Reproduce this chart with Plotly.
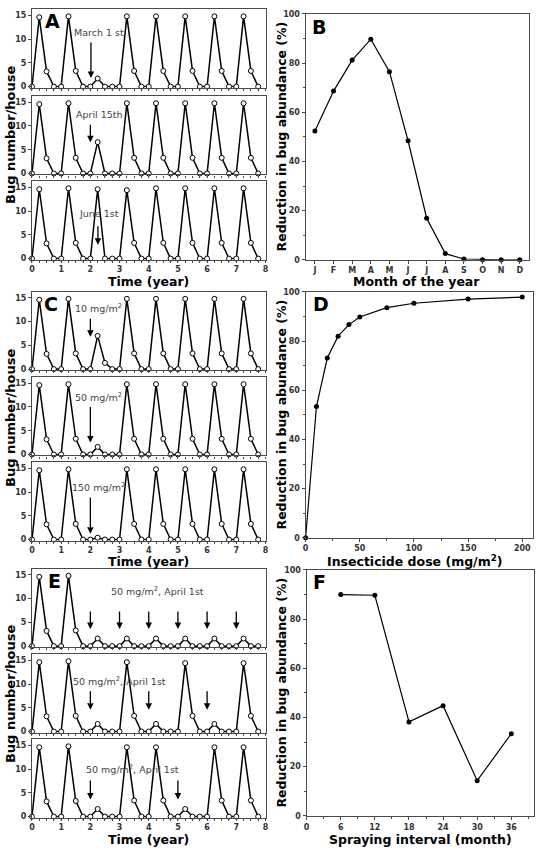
import plotly.graph_objects as go

W, H = 543, 851

# ---------------- data ----------------
time_years = [0.0, 0.25, 0.5, 0.75, 1.0, 1.25, 1.5, 1.75, 2.0, 2.25, 2.5, 2.75,
              3.0, 3.25, 3.5, 3.75, 4.0, 4.25, 4.5, 4.75, 5.0, 5.25, 5.5, 5.75,
              6.0, 6.25, 6.5, 6.75, 7.0, 7.25, 7.5, 7.75]

a_march1 = [0, 14.6, 3.2, 0, 0, 14.8, 3.3, 0, 0, 1.7, 0, 0,
            0, 14.8, 3.3, 0, 0, 14.8, 3.3, 0, 0, 14.8, 3.3, 0,
            0, 14.8, 3.3, 0, 0, 14.8, 3.3, 0]
a_april15 = [0, 14.6, 3.2, 0, 0, 14.8, 3.3, 0, 0, 6.6, 0, 0,
             0, 14.8, 3.3, 0, 0, 14.8, 3.3, 0, 0, 14.8, 3.3, 0,
             0, 14.8, 3.3, 0, 0, 14.8, 3.3, 0]
a_june1 = [0, 14.6, 3.2, 0, 0, 14.8, 3.3, 0, 0, 14.6, 0, 0,
           0, 14.4, 3.3, 0, 0, 14.8, 3.3, 0, 0, 14.8, 3.3, 0,
           0, 14.8, 3.3, 0, 0, 14.8, 3.3, 0]
c_10mg = [0, 14.6, 3.2, 0, 0, 14.8, 3.3, 0, 0, 7.0, 1.3, 0,
          0, 14.8, 3.3, 0, 0, 14.8, 3.3, 0, 0, 14.8, 3.3, 0,
          0, 14.8, 3.3, 0, 0, 14.8, 3.3, 0]
c_50mg = [0, 14.6, 3.2, 0, 0, 14.8, 3.3, 0, 0, 1.6, 0, 0,
          0, 14.8, 3.3, 0, 0, 14.8, 3.3, 0, 0, 14.8, 3.3, 0,
          0, 14.8, 3.3, 0, 0, 14.8, 3.3, 0]
c_150mg = [0, 14.6, 3.2, 0, 0, 14.8, 3.3, 0, 0, 0.4, 0, 0,
           0, 14.8, 3.3, 0, 0, 14.8, 3.3, 0, 0, 14.8, 3.3, 0,
           0, 14.8, 3.3, 0, 0, 14.8, 3.3, 0]
e_every12 = [0, 14.6, 3.2, 0, 0, 14.8, 3.3, 0, 0, 1.6, 0, 0,
             0, 1.6, 0, 0, 0, 1.6, 0, 0, 0, 1.6, 0, 0,
             0, 1.6, 0, 0, 0, 1.6, 0, 0]
e_every24 = [0, 14.6, 3.2, 0, 0, 14.8, 3.3, 0, 0, 1.6, 0, 0,
             0, 14.6, 3.3, 0, 0, 1.6, 0, 0, 0, 14.4, 3.3, 0,
             0, 1.6, 0, 0, 0, 14.4, 3.3, 0]
e_every36 = [0, 14.6, 3.2, 0, 0, 14.8, 3.3, 0, 0, 1.6, 0, 0,
             0, 14.6, 3.4, 0, 0, 14.6, 3.4, 0, 0, 1.6, 0, 0,
             0, 14.6, 3.4, 0, 0, 14.6, 3.4, 0]

month_ticks = ["J", "F", "M", "A", "M", "J", "J", "A", "S", "O", "N", "D"]
month_num = [1, 2, 3, 4, 5, 6, 7, 8, 9, 10, 11, 12]
b_reduction = [52.4, 68.6, 81.2, 89.7, 76.5, 48.4, 16.9, 2.5, 0.3, 0.0, 0.0, 0.0]

d_dose = [0, 10, 20, 30, 40, 50, 75, 100, 150, 200]
d_reduction = [0.0, 53.4, 73.1, 82.0, 86.7, 89.8, 93.6, 95.4, 97.1, 97.9]

f_interval = [6, 12, 18, 24, 30, 36]
f_reduction = [90.0, 89.7, 38.2, 44.8, 14.3, 33.4]

left_series = [a_march1, a_april15, a_june1, c_10mg, c_50mg, c_150mg,
               e_every12, e_every24, e_every36]
left_tops = [5.5, 93.3, 179.3, 291.0, 377.3, 463.3, 571.0, 657.3, 743.3]

# ---------------- helpers ----------------
FONT = "DejaVu Sans"
GRID = "#4a4a4a"


def px_x(p):
    return p / W


def px_y(p):
    return 1 - p / H


fig = go.Figure()
layout = {}
annotations = []

LX0, LX1 = 29.3, 266.0
PANEL_H = 79.0

for i, (series, top) in enumerate(zip(left_series, left_tops)):
    n = i + 1
    xa = "xaxis" if n == 1 else f"xaxis{n}"
    ya = "yaxis" if n == 1 else f"yaxis{n}"
    xr = "x" if n == 1 else f"x{n}"
    yr = "y" if n == 1 else f"y{n}"
    fig.add_trace(go.Scatter(
        x=time_years, y=series, xaxis=xr, yaxis=yr, mode="lines+markers",
        line=dict(color="black", width=1.5),
        marker=dict(symbol="circle", size=5, color="white",
                    line=dict(color="black", width=1)),
        cliponaxis=False, showlegend=False, hoverinfo="skip"))
    bottom_panel = (i % 3 == 2)
    layout[xa] = dict(
        domain=[px_x(LX0), px_x(LX1)], anchor=yr, range=[0, 8.02],
        tickvals=[0, 1, 2, 3, 4, 5, 6, 7, 8],
        showticklabels=bottom_panel, ticks="outside", ticklen=2,
        tickcolor=GRID, tickwidth=1,
        minor=dict(dtick=0.25, tick0=0, ticks="outside", ticklen=2,
                   tickcolor=GRID, showgrid=False),
        tickfont=dict(family=FONT, size=8, color="#333", weight="bold"),
        showline=True, mirror=True, linecolor=GRID, linewidth=1.2,
        showgrid=False, zeroline=False, fixedrange=True)
    layout[ya] = dict(
        domain=[px_y(top + PANEL_H), px_y(top)], anchor=xr,
        range=[-0.21, 16.25], tickvals=[0, 5, 10, 15],
        ticks="outside", ticklen=3, tickcolor=GRID, tickwidth=1,
        tickfont=dict(family=FONT, size=8, color="#333", weight="bold"),
        showline=True, mirror=True, linecolor=GRID, linewidth=1.2,
        showgrid=False, zeroline=False, fixedrange=True)

# right-hand panels
right_specs = [
    (month_num, b_reduction, (306, 532), (10, 258.5), [0.5, 12.5],
     month_num, month_ticks, None),
    (d_dose, d_reduction, (306, 536), (291, 539.5), [0, 210],
     [0, 50, 100, 150, 200], ["0", "50", "100", "150", "200"], 25),
    (f_interval, f_reduction, (307, 537), (572, 820.5), [0, 40],
     [0, 6, 12, 18, 24, 30, 36], ["0", "6", "12", "18", "24", "30", "36"], 3),
]
for j, (xs, ys, xd, yd, xrng, tv, tt, mdt) in enumerate(right_specs):
    n = 10 + j
    xa, ya, xr, yr = f"xaxis{n}", f"yaxis{n}", f"x{n}", f"y{n}"
    fig.add_trace(go.Scatter(
        x=xs, y=ys, xaxis=xr, yaxis=yr, mode="lines+markers",
        line=dict(color="black", width=1.2),
        marker=dict(symbol="circle", size=5, color="black"),
        cliponaxis=False, showlegend=False, hoverinfo="skip"))
    xdict = dict(
        domain=[px_x(xd[0]), px_x(xd[1])], anchor=yr, range=xrng,
        tickvals=tv, ticktext=tt, ticks="outside", ticklen=3,
        tickcolor=GRID, tickwidth=1,
        tickfont=dict(family=FONT, size=8, color="#333", weight="bold"),
        showline=True, mirror=True, linecolor=GRID, linewidth=1.2,
        showgrid=False, zeroline=False, fixedrange=True)
    if mdt:
        xdict["minor"] = dict(dtick=mdt, tick0=0, ticks="outside", ticklen=2,
                              tickcolor=GRID, showgrid=False)
    layout[xa] = xdict
    layout[ya] = dict(
        domain=[px_y(yd[1]), px_y(yd[0])], anchor=xr, range=[0, 100],
        tickvals=[0, 20, 40, 60, 80, 100], ticks="outside", ticklen=3,
        tickcolor=GRID, tickwidth=1,
        minor=dict(dtick=10, tick0=0, ticks="outside", ticklen=2,
                   tickcolor=GRID, showgrid=False),
        tickfont=dict(family=FONT, size=8, color="#333", weight="bold"),
        showline=True, mirror=True, linecolor=GRID, linewidth=1.2,
        showgrid=False, zeroline=False, fixedrange=True)

# ---------------- annotations ----------------
def ref(n):
    return ("x" if n == 1 else f"x{n}"), ("y" if n == 1 else f"y{n}")


TXT = dict(family=FONT, size=9.5, color="#444")

panel_texts = [
    (1, 2.29, 11.3, "March 1 st"),
    (2, 2.3, 12.5, "April 15th"),
    (3, 2.3, 9.4, "June 1st"),
    (4, 2.28, 12.8, "10 mg/m<sup>2</sup>"),
    (5, 2.28, 12.0, "50 mg/m<sup>2</sup>"),
    (6, 2.28, 11.1, "150 mg/m<sup>2</sup>"),
    (7, 4.31, 11.6, "50 mg/m<sup>2</sup>, April 1st"),
    (8, 3.01, 10.6, "50 mg/m<sup>2</sup>, April 1st"),
    (9, 3.46, 10.0, "50 mg/m<sup>2</sup>, April 1st"),
]
for n, x, y, t in panel_texts:
    xr, yr = ref(n)
    annotations.append(dict(xref=xr, yref=yr, x=x, y=y, text=t,
                            showarrow=False, font=TXT))

arrows = [
    (1, 2.02, 9.6, 1.8),
    (2, 2.0, 10.6, 6.6),
    (3, 2.26, 7.1, 2.9),
    (4, 2.0, 10.9, 6.8),
    (5, 2.0, 10.3, 2.5),
    (6, 2.0, 9.2, 1.2),
    (7, 2.0, 7.6, 3.6), (7, 3.0, 7.6, 3.6), (7, 4.0, 7.6, 3.6),
    (7, 5.0, 7.6, 3.6), (7, 6.0, 7.6, 3.6), (7, 7.0, 7.6, 3.6),
    (8, 2.0, 8.8, 4.6), (8, 4.0, 8.8, 4.6), (8, 6.0, 8.8, 4.6),
    (9, 2.0, 7.9, 3.6), (9, 5.0, 7.9, 3.6),
]
for n, x, yt, yh in arrows:
    xr, yr = ref(n)
    annotations.append(dict(xref=xr, yref=yr, x=x, y=yh, ax=x, ay=yt,
                            axref=xr, ayref=yr, text="", showarrow=True,
                            arrowhead=2, arrowsize=1, arrowwidth=1.3,
                            arrowcolor="black"))

LET = dict(family=FONT, size=19, color="black", weight="bold")
for lbl, px, py in [("A", 50, 17), ("C", 49, 303), ("E", 52, 583),
                    ("B", 320, 23), ("D", 321.5, 303), ("F", 320, 584)]:
    annotations.append(dict(xref="paper", yref="paper", x=px_x(px), y=px_y(py),
                            text=lbl, showarrow=False, font=LET,
                            xanchor="center", yanchor="middle"))

TIT = dict(family=FONT, size=12.5, color="black", weight="bold")
for cy in [132, 418, 697]:
    annotations.append(dict(xref="paper", yref="paper", x=px_x(7.5), y=px_y(cy),
                            text="Bug number/house", textangle=-90,
                            showarrow=False, font=dict(TIT, size=13),
                            xanchor="center", yanchor="middle"))
for cy in [280.5, 563.5, 844]:
    annotations.append(dict(xref="paper", yref="paper", x=px_x(147), y=px_y(cy),
                            text="Time (year)", showarrow=False, font=TIT,
                            xanchor="center", yanchor="middle"))
for cy in [134, 415, 696]:
    annotations.append(dict(xref="paper", yref="paper", x=px_x(282), y=px_y(cy),
                            text="Reduction in bug abundance (%)", textangle=-90,
                            showarrow=False, font=TIT,
                            xanchor="center", yanchor="middle"))
for t, cx, cy in [("Month of the year", 418, 280),
                  ("Insecticide dose (mg/m<sup>2</sup>)", 417, 563),
                  ("Spraying interval (month)", 422, 844)]:
    annotations.append(dict(xref="paper", yref="paper", x=px_x(cx), y=px_y(cy),
                            text=t, showarrow=False, font=TIT,
                            xanchor="center", yanchor="middle"))

fig.update_layout(
    width=W, height=H, margin=dict(l=0, r=0, t=0, b=0),
    paper_bgcolor="white", plot_bgcolor="white",
    showlegend=False, annotations=annotations, **layout)

fig.write_html("out.html", config={"displayModeBar": False})
